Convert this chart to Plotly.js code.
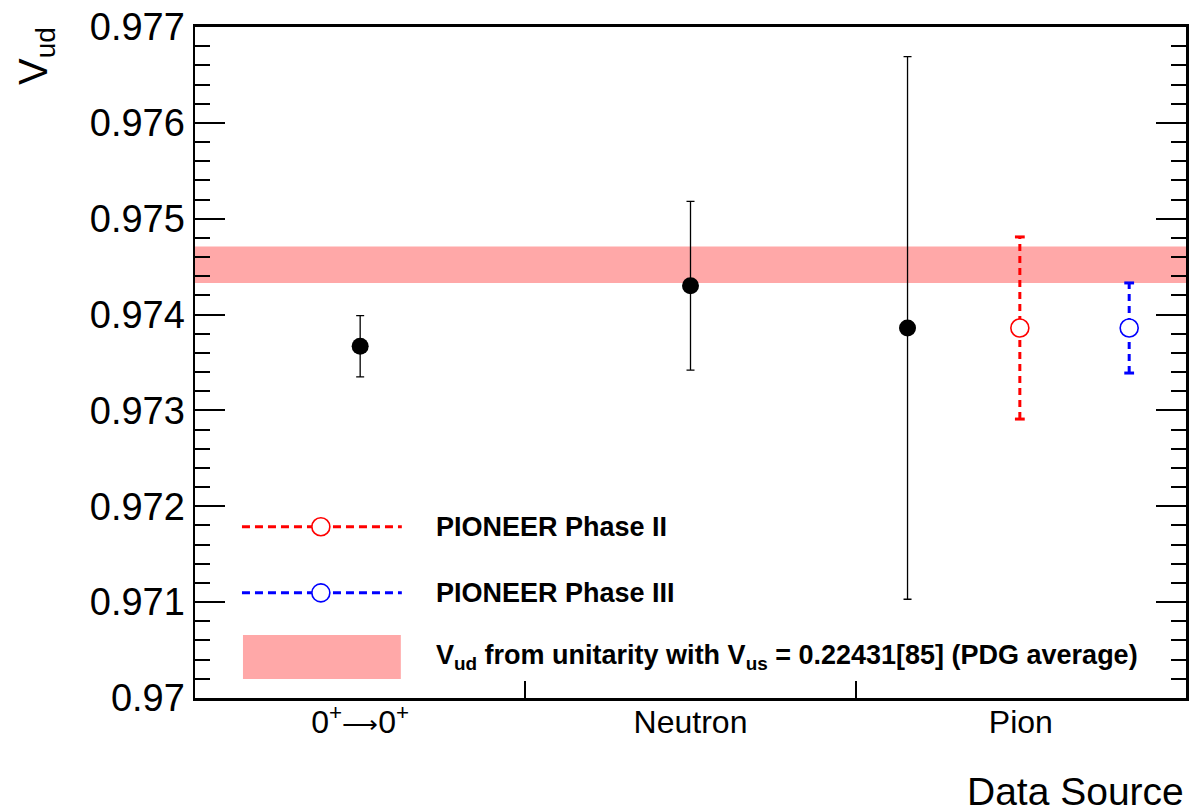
<!DOCTYPE html>
<html>
<head>
<meta charset="utf-8">
<script src="https://cdn.plot.ly/plotly-3.0.1.min.js"></script>
<style>html,body{margin:0;padding:0;background:#fff;}#chart{width:1189px;height:812px;}</style>
</head>
<body>
<div id="chart"></div>
<script>
// ---- data ----
const categories = ['0<sup>+</sup><span style="font-size:25px">⟶</span>0<sup>+</sup>', 'Neutron', 'Pion'];
const categoryPos = [0.5, 1.5, 2.5];
const binEdges = [1, 2];

const measX = [0.5, 1.5, 2.157];
const measV = [0.97367, 0.97430, 0.97386];
const measErr = [0.00032, 0.00088, 0.00283];

const phase2X = [2.497];
const phase2V = [0.97386];
const phase2Err = [0.00095];

const phase3X = [2.828];
const phase3V = [0.97386];
const phase3Err = [0.00047];

const bandCenter = 0.97452;
const bandHalf = 0.00019;

const yTickVals = [0.970, 0.971, 0.972, 0.973, 0.974, 0.975, 0.976, 0.977];
const yTickText = ['0.97', '0.971', '0.972', '0.973', '0.974', '0.975', '0.976', '0.977'];

const FONT = 'Liberation Sans, Arial, Helvetica, sans-serif';

function barTraces(xs, vs, es, color) {
  const lx = [], ly = [], cx = [], cy = [];
  for (let i = 0; i < xs.length; i++) {
    lx.push(xs[i], xs[i], null);
    ly.push(vs[i] - es[i], vs[i] + es[i], null);
    cx.push(xs[i], xs[i]);
    cy.push(vs[i] - es[i], vs[i] + es[i]);
  }
  return [
    {x: lx, y: ly, type: 'scatter', mode: 'lines', line: {color: color, width: 3, dash: '7px,5px'}, hoverinfo: 'skip', showlegend: false},
    {x: cx, y: cy, type: 'scatter', mode: 'markers', marker: {symbol: 'line-ew', size: 7, line: {color: color, width: 3}}, hoverinfo: 'skip', showlegend: false},
    {x: xs, y: vs, type: 'scatter', mode: 'markers', marker: {symbol: 'circle', size: 18, color: 'white', line: {color: color, width: 1.6}}, showlegend: false}
  ];
}

const traces = [
  {
    x: measX, y: measV, type: 'scatter', mode: 'markers',
    marker: {symbol: 'circle', size: 17, color: 'black'},
    error_y: {type: 'data', array: measErr, visible: true, color: 'black', thickness: 1.3, width: 4},
    showlegend: false
  },
  ...barTraces(phase2X, phase2V, phase2Err, 'red'),
  ...barTraces(phase3X, phase3V, phase3Err, 'blue')
];

// legend geometry (paper coords)
const legX0 = 0.0474, legX1 = 0.2087, legXc = 0.127, legTextX = 0.2415;
const legY = [0.2552, 0.1567];

const shapes = [
  {type: 'rect', xref: 'x', yref: 'y', x0: 0, x1: 3, y0: bandCenter - bandHalf, y1: bandCenter + bandHalf,
   fillcolor: 'rgb(255,168,168)', line: {width: 0}, layer: 'below'},
  // legend entries
  {type: 'line', xref: 'paper', yref: 'paper', x0: legX0, x1: legX1, y0: legY[0], y1: legY[0], line: {color: 'red', width: 3, dash: '8px,5px'}},
  {type: 'circle', xref: 'paper', yref: 'paper', xsizemode: 'pixel', ysizemode: 'pixel', xanchor: legXc, yanchor: legY[0],
   x0: -9, x1: 9, y0: -9, y1: 9, fillcolor: 'white', line: {color: 'red', width: 1.6}},
  {type: 'line', xref: 'paper', yref: 'paper', x0: legX0, x1: legX1, y0: legY[1], y1: legY[1], line: {color: 'blue', width: 3, dash: '8px,5px'}},
  {type: 'circle', xref: 'paper', yref: 'paper', xsizemode: 'pixel', ysizemode: 'pixel', xanchor: legXc, yanchor: legY[1],
   x0: -9, x1: 9, y0: -9, y1: 9, fillcolor: 'white', line: {color: 'blue', width: 1.6}},
  {type: 'rect', xref: 'paper', yref: 'paper', x0: 0.0484, x1: 0.2077, y0: 0.0284, y1: 0.094,
   fillcolor: 'rgb(255,168,168)', line: {width: 0}}
];

const legFont = {family: FONT, size: 27, color: 'black', weight: 700};
const annotations = [
  {xref: 'paper', yref: 'paper', x: legTextX, y: legY[0], xanchor: 'left', yanchor: 'middle', showarrow: false,
   text: 'PIONEER Phase II', font: legFont},
  {xref: 'paper', yref: 'paper', x: legTextX, y: legY[1], xanchor: 'left', yanchor: 'middle', showarrow: false,
   text: 'PIONEER Phase III', font: legFont},
  {xref: 'paper', yref: 'paper', x: legTextX, y: 0.061, xanchor: 'left', yanchor: 'middle', showarrow: false,
   text: 'V<sub>ud</sub> from unitarity with V<sub>us</sub> = 0.22431[85] (PDG average)', font: legFont},
  // axis titles
  {xref: 'paper', yref: 'paper', x: 1, y: 0, xanchor: 'right', yanchor: 'middle', yshift: -93, xshift: 0, showarrow: false,
   text: 'Data Source', font: {family: FONT, size: 39, color: 'black'}},
  {xref: 'paper', yref: 'paper', x: 0, y: 1, xanchor: 'right', yanchor: 'top', xshift: -132, yshift: 2, showarrow: false,
   textangle: -90, text: 'V<sub>ud</sub>', font: {family: FONT, size: 40, color: 'black'}}
];

const layout = {
  width: 1189, height: 812,
  margin: {l: 195, r: 3, t: 27, b: 114},
  paper_bgcolor: 'white', plot_bgcolor: 'white',
  showlegend: false,
  font: {family: FONT, color: 'black'},
  xaxis: {
    range: [0, 3], showgrid: false, zeroline: false,
    showline: true, linecolor: 'black', linewidth: 3, mirror: true,
    tickmode: 'array', tickvals: categoryPos, ticktext: categories, ticks: '',
    tickfont: {family: FONT, size: 32, color: 'black'}, ticklabelstandoff: -6,
    minor: {tickmode: 'array', tickvals: binEdges, ticks: 'inside', ticklen: 17, tickwidth: 2, tickcolor: 'black', showgrid: false}
  },
  yaxis: {
    range: [0.970, 0.977], showgrid: false, zeroline: false,
    showline: true, linecolor: 'black', linewidth: 2.5, mirror: 'allticks',
    tickmode: 'array', tickvals: yTickVals, ticktext: yTickText,
    ticks: 'inside', ticklen: 30, tickwidth: 2, tickcolor: 'black',
    tickfont: {family: FONT, size: 38, color: 'black'}, ticklabelstandoff: 0,
    minor: {dtick: 0.0002, tick0: 0.970, ticks: 'inside', ticklen: 15, tickwidth: 2, tickcolor: 'black', showgrid: false}
  },
  shapes: shapes,
  annotations: annotations
};

Plotly.newPlot('chart', traces, layout, {displayModeBar: false, staticPlot: true});
</script>
</body>
</html>
